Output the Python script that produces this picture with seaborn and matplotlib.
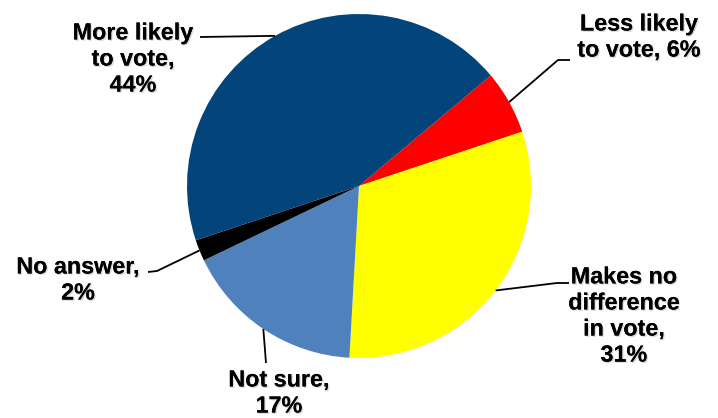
import matplotlib
matplotlib.use("Agg")
import matplotlib.pyplot as plt
import matplotlib.patheffects as pe
import numpy as np
import seaborn as sns

sns.set_theme(style="white")
plt.rcParams["font.family"] = ["Liberation Sans", "DejaVu Sans"]

# Survey responses, clockwise from the top right
categories = ["Less likely\nto vote", "Makes no\ndifference\nin vote", "Not sure",
              "No answer", "More likely\nto vote"]
shares = [6, 31, 17, 2, 44]
label_texts = ["Less likely\nto vote, 6%", "Makes no\ndifference\nin vote,\n31%",
               "Not sure,\n17%", "No answer,\n2%", "More likely\nto vote,\n44%"]
colors = ["#FF0000", "#FFFF00", "#4F81BD", "#000000", "#03457A"]

W, H = 718, 418
fig = plt.figure(figsize=(W / 100, H / 100), dpi=100)
fig.patch.set_facecolor("white")

# pie centre and radius in pixels
cx, cy, R = 359, 186, 172
ax = fig.add_axes([(cx - R) / W, (H - cy - R) / H, 2 * R / W, 2 * R / H])
wedges, _ = ax.pie(shares, colors=colors, startangle=40, counterclock=False,
                   radius=1, wedgeprops=dict(linewidth=0))
ax.set_xlim(-1, 1)
ax.set_ylim(-1, 1)
ax.set_aspect("equal")
ax.axis("off")


def px(x, y):
    """pixel position (origin top-left) -> data coordinates of the pie axes"""
    return (x - cx) / R, (cy - y) / R


# leader-line bends (pixels) and label centres (pixels) per slice
bends = [[(558, 60), (570, 60)],
         [(557, 283), (569, 283)],
         [(266, 363)],
         [(157, 271), (148, 272)],
         [(200, 37)]]
label_pos = [(639, 37), (624, 316), (279, 393), (78, 280), (133, 59)]

shadow = [pe.withSimplePatchShadow(offset=(1, -1), shadow_rgbFace="#999999", alpha=0.35),
          pe.Normal()]

for w, bend, txt, (tx, ty) in zip(wedges, bends, label_texts, label_pos):
    mid = np.deg2rad((w.theta1 + w.theta2) / 2)
    pts = [(np.cos(mid), np.sin(mid))] + [px(*b) for b in bend]
    xs, ys = zip(*pts)
    ax.plot(xs, ys, color="black", lw=1.3, clip_on=False, solid_capstyle="butt")
    lx, ly = px(tx, ty)
    ax.text(lx, ly, txt, ha="center", va="center", fontsize=16.8,
            fontweight="bold", linespacing=1.17, color="black", clip_on=False,
            path_effects=shadow)

fig.savefig("out.png", dpi=100, facecolor="white")
